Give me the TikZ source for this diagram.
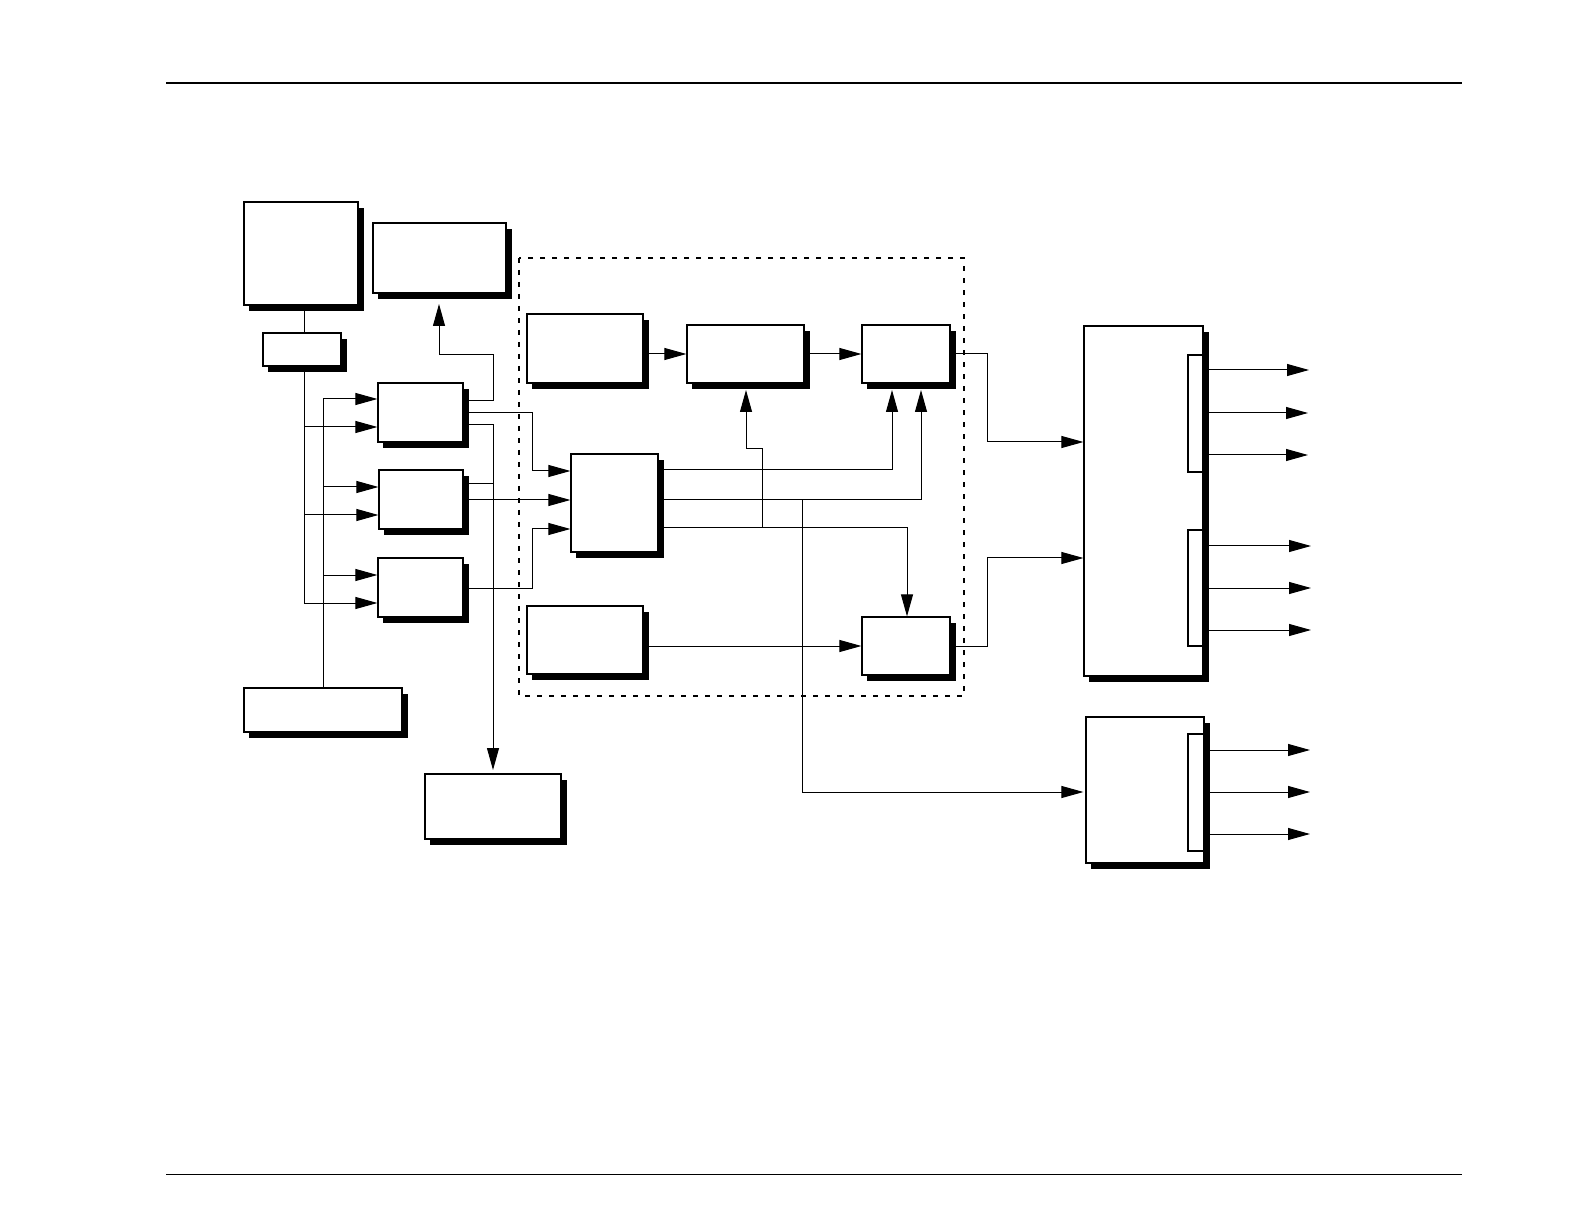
\documentclass[tikz,border=0pt]{standalone}
\usetikzlibrary{fit,arrows.meta}
\tikzset{
  boxsty/.style={draw,fill=white,inner sep=0pt,line width=0.6pt},
  portsty/.style={draw,fill=white,line width=1pt},
  wire/.style={line width=0.5pt},
  arr/.style={wire,-{Triangle[length=11pt,width=6pt]}},
  grp/.style={line width=1pt,dash pattern=on 2.5pt off 3.5pt}
}
\newcommand\blk[5]{%
  \fill[black] (#2+5,#3+6) rectangle (#4+6,#5+6);
  \node[boxsty,fit={(#2,#3) (#4,#5)}] (#1) {};}
\begin{document}
\begin{tikzpicture}[x=0.5pt,y=-0.5pt]
\useasboundingbox (0,0) rectangle (1584,1224);
% page rules
\coordinate (r1a) at (166,83); \coordinate (r1b) at (1462,83);
\coordinate (r2a) at (166,1174.5); \coordinate (r2b) at (1462,1174.5);
\draw[line width=1pt] (r1a) -- (r1b);
\draw[line width=0.5pt] (r2a) -- (r2b);
% dashed group
\draw[grp] (519,258) rectangle (964,696);
% blocks
\blk{A}{244}{202}{358}{305}
\blk{B}{373}{223}{506}{293}
\blk{C}{263}{333}{341}{366}
\blk{D}{378}{383}{463}{442}
\blk{E}{379}{470}{463}{529}
\blk{G}{378}{558}{463}{617}
\blk{H}{244}{688}{402}{732}
\blk{I}{425}{774}{561}{839}
\blk{K}{527}{314}{643}{383}
\blk{L}{687}{325}{804}{383}
\blk{M}{862}{325}{950}{383}
\blk{F}{571}{454}{658}{552}
\blk{J}{527}{606}{643}{674}
\blk{N}{862}{617}{950}{675}
\blk{Q}{1084}{326}{1203}{676}
\blk{P}{1086}{717}{1204}{863}
\node[portsty,inner sep=0pt,fit={(1188,355) (1203,472)}] (Q1) {};
\node[portsty,inner sep=0pt,fit={(1188,530) (1203,646)}] (Q2) {};
\node[portsty,inner sep=0pt,fit={(1188,734) (1204,851)}] (P1) {};
% named free ends
\coordinate (Bin) at (439,304);
\coordinate (Lin) at (746,390);
\coordinate (Min1) at (892,390);
\coordinate (Min2) at (921,390);
\coordinate (Iin) at (493,770);
% input side
\draw[wire] (A.south -| 304,0) -- (C.north -| 304,0);
\draw[arr] (C.south -| 304,0) |- (G.west |- 0,603);
\draw[arr] (304,427) -- (D.west |- 0,427);
\draw[arr] (304,515) -- (E.west |- 0,515);
\draw[arr] (H.north -| 323,0) |- (D.west |- 0,399);
\draw[arr] (323,487) -- (E.west |- 0,487);
\draw[arr] (323,575) -- (G.west |- 0,575);
% D outputs
\draw[arr] (D.east |- 0,401) -| (493,355) -| (Bin);
\draw[arr] (D.east |- 0,413) -| (532,471) -- (F.west |- 0,471);
\draw[arr] (D.east |- 0,425) -| (Iin);
% E outputs
\draw[wire] (E.east |- 0,484) -- (493,484);
\draw[arr] (E.east |- 0,500) -- (F.west |- 0,500);
% G output
\draw[arr] (G.east |- 0,588) -| (532,529) -- (F.west |- 0,529);
% chain
\draw[arr] (K.east |- 0,354) -- (L.west |- 0,354);
\draw[arr] (L.east |- 0,354) -- (M.west |- 0,354);
% F outputs
\draw[arr] (F.east |- 0,470) -| (Min1);
\draw[arr] (F.east |- 0,500) -| (Min2);
\draw[arr] (F.east |- 0,528) -| (N.north -| 907,0);
\draw[arr] (762,528) |- (746,449) -- (Lin);
\draw[arr] (802,500) |- (Q.west |- 0,792) ;
\draw[arr] (J.east |- 0,646) -- (N.west |- 0,646);
% to Q
\draw[arr] (M.east |- 0,354) -| (987,442) -- (Q.west |- 0,442);
\draw[arr] (N.east |- 0,646) -| (987,558) -- (Q.west |- 0,558);
% outputs
\foreach \yy/\xx in {370/1309,413/1308,455/1308,546/1311,588/1311,630/1311}
  \draw[arr] (Q.east |- 0,\yy) ++(5,0) -- (\xx,\yy);
\foreach \yy in {750,792,834}
  \draw[arr] (P.east |- 0,\yy) ++(5,0) -- (1310,\yy);
\end{tikzpicture}
\end{document}
